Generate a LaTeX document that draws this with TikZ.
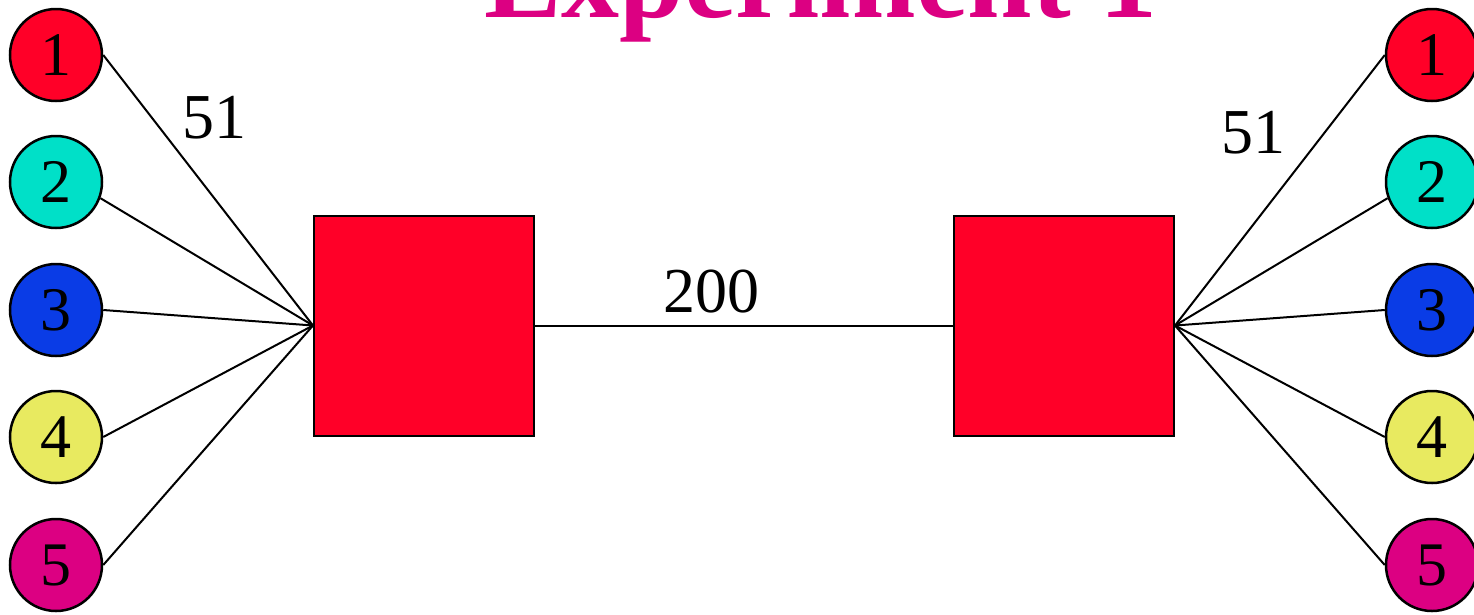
\documentclass[tikz,border=0pt]{standalone}
\usepackage{fontspec}
\setmainfont{Liberation Serif}
\definecolor{cred}{RGB}{255,0,40}
\definecolor{ccyan}{RGB}{0,224,200}
\definecolor{cblue}{RGB}{10,60,230}
\definecolor{cyellow}{RGB}{232,234,96}
\definecolor{cmag}{RGB}{220,0,130}
\begin{document}
\begin{tikzpicture}[x=1pt,y=-1pt,
  host/.style={circle,draw=black,line width=2.5pt,minimum size=92pt,inner sep=0pt,
    font=\fontsize{62}{64}\selectfont},
  router/.style={rectangle,draw=black,line width=2pt,fill=cred,minimum size=220pt,inner sep=0pt},
  link/.style={draw=black,line width=2pt},
  lbl/.style={font=\fontsize{64}{66}\selectfont,inner sep=0pt}]
\useasboundingbox (0,0) rectangle (1474,614);
\clip (0,0) rectangle (1474,614);
\node[anchor=base,text=cmag,inner sep=0pt,font=\bfseries\fontsize{116}{118}\selectfont] (title) at (821,17) {Experiment 1};
\node[router] (r1) at (424,325.5) {};
\node[router] (r2) at (1064,325.5) {};
\node[host,fill=cred]    (l1) at (56,55)  {1};
\node[host,fill=ccyan]   (l2) at (56,182) {2};
\node[host,fill=cblue]   (l3) at (56,310) {3};
\node[host,fill=cyellow] (l4) at (56,437) {4};
\node[host,fill=cmag]    (l5) at (56,565) {5};
\node[host,fill=cred]    (q1) at (1432,55)  {1};
\node[host,fill=ccyan]   (q2) at (1432,182) {2};
\node[host,fill=cblue]   (q3) at (1432,310) {3};
\node[host,fill=cyellow] (q4) at (1432,437) {4};
\node[host,fill=cmag]    (q5) at (1432,565) {5};
\draw[link] (l1.east) -- (r1.west);
\draw[link] (l2.-20) -- (r1.west);
\draw[link] (l3.east) -- (r1.west);
\draw[link] (l4.east) -- (r1.west);
\draw[link] (l5.east) -- (r1.west);
\draw[link] (q1.west) -- (r2.east);
\draw[link] (q2.200) -- (r2.east);
\draw[link] (q3.west) -- (r2.east);
\draw[link] (q4.west) -- (r2.east);
\draw[link] (q5.west) -- (r2.east);
\draw[link] (r1.east) -- (r2.west);
\node[lbl] (w1) at (214,118) {51};
\node[lbl] (w2) at (1253,133) {51};
\node[lbl] (w3) at (711,292) {200};
\end{tikzpicture}
\end{document}
